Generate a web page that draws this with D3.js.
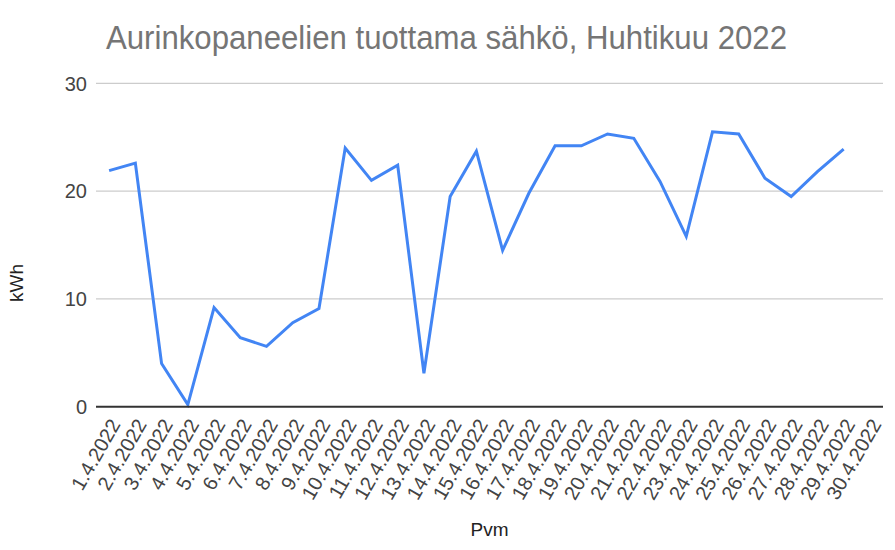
<!DOCTYPE html>
<html><head><meta charset="utf-8">
<script src="https://cdn.jsdelivr.net/npm/d3@7"></script>
<style>body{margin:0;background:#fff}svg{display:block}text{font-family:"Liberation Sans",Arial,sans-serif}</style>
</head><body>
<svg id="chart" width="895" height="550"></svg>
<script>
const title = "Aurinkopaneelien tuottama sähkö, Huhtikuu 2022";
const xTitle = "Pvm";
const yTitle = "kWh";
const dates = ["1.4.2022","2.4.2022","3.4.2022","4.4.2022","5.4.2022","6.4.2022","7.4.2022","8.4.2022","9.4.2022","10.4.2022","11.4.2022","12.4.2022","13.4.2022","14.4.2022","15.4.2022","16.4.2022","17.4.2022","18.4.2022","19.4.2022","20.4.2022","21.4.2022","22.4.2022","23.4.2022","24.4.2022","25.4.2022","26.4.2022","27.4.2022","28.4.2022","29.4.2022","30.4.2022"];
const kwh = [21.9,22.6,4.0,0.2,9.2,6.4,5.6,7.8,9.1,24.0,21.0,22.4,3.1,19.5,23.7,14.5,19.8,24.2,24.2,25.3,24.9,20.9,15.8,25.5,25.3,21.2,19.5,21.8,23.9,null];
const yTicks = [0,10,20,30];

const svg = d3.select("#chart");
const m = {left:96, right:12, top:83.3, bottom:143.3};
const W = 895, H = 550;
const x = d3.scaleBand().domain(dates).range([m.left, W-m.right]);
const y = d3.scaleLinear().domain([0,30]).range([H-m.bottom, m.top]);
const cx = d => x(d) + x.bandwidth()/2;

// gridlines
svg.append("g").selectAll("line").data(yTicks.filter(t=>t!==0)).join("line")
  .attr("x1", m.left).attr("x2", W-m.right)
  .attr("y1", d=>y(d)).attr("y2", d=>y(d))
  .attr("stroke","#cccccc").attr("stroke-width",1.2);

// y tick labels
svg.append("g").selectAll("text").data(yTicks).join("text")
  .attr("x", 87).attr("y", d=>y(d)).attr("dy","0.36em")
  .attr("text-anchor","end").attr("font-size",20).attr("fill","#444")
  .text(d=>d);

// line
const line = d3.line().defined(d=>d.v!==null).x(d=>cx(d.d)).y(d=>y(d.v));
svg.append("path").datum(dates.map((d,i)=>({d, v:kwh[i]})))
  .attr("d", line).attr("fill","none").attr("stroke","#4285f4")
  .attr("stroke-width",3).attr("stroke-linejoin","miter");

// baseline
svg.append("line").attr("x1",m.left).attr("x2",W-m.right)
  .attr("y1",y(0)).attr("y2",y(0)).attr("stroke","#333").attr("stroke-width",2);

// x tick labels
svg.append("g").selectAll("text").data(dates).join("text")
  .attr("transform", d=>`translate(${cx(d)+6},${y(0)+14}) rotate(-60)`)
  .attr("dy","0.35em").attr("text-anchor","end")
  .attr("font-size",20).attr("fill","#444").text(d=>d);

// titles
svg.append("text").attr("x",106).attr("y",49).attr("font-size",33)
  .attr("textLength",681).attr("lengthAdjust","spacingAndGlyphs")
  .attr("fill","#757575").text(title);
svg.append("text").attr("x",(m.left+W-m.right)/2).attr("y",536)
  .attr("text-anchor","middle").attr("font-size",19).attr("fill","#222").text(xTitle);
svg.append("text").attr("transform","translate(23,283) rotate(-90)")
  .attr("text-anchor","middle").attr("font-size",19).attr("fill","#222").text(yTitle);
</script>
</body></html>
